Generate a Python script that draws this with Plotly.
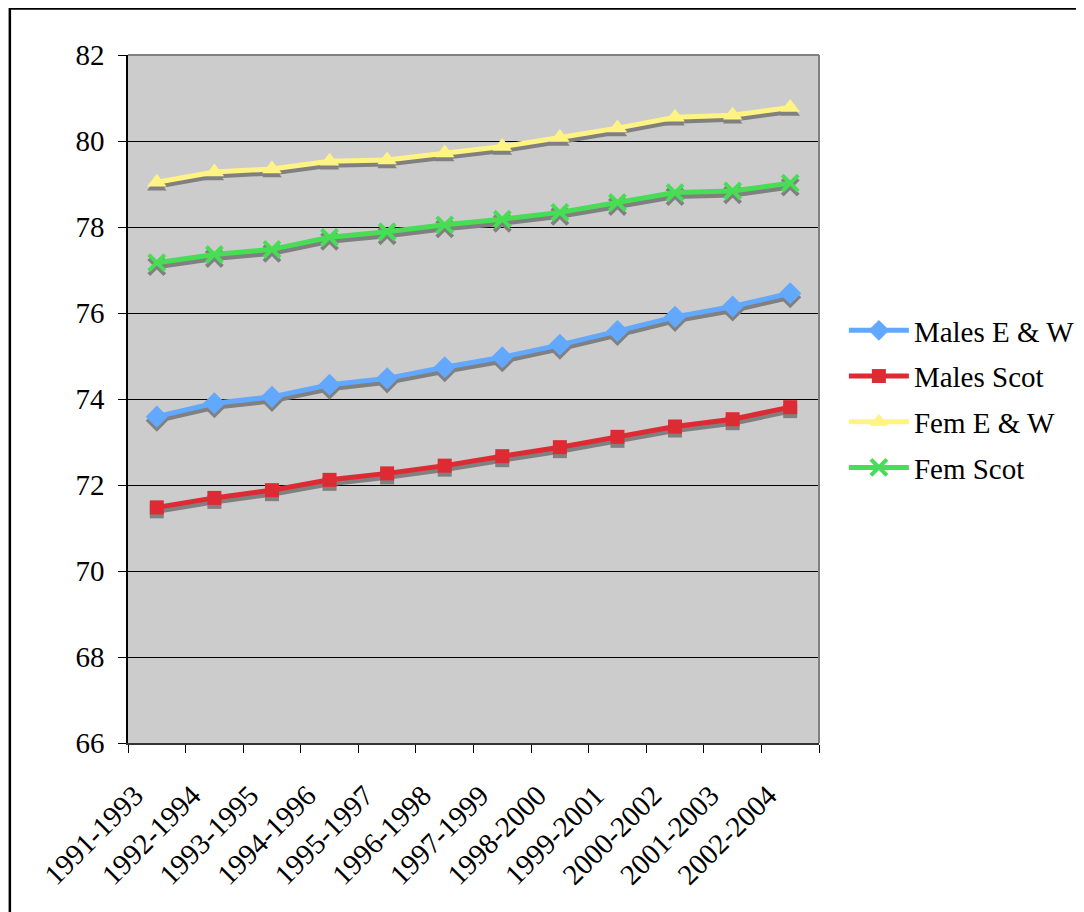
import plotly.graph_objects as go

periods = ["1991-1993", "1992-1994", "1993-1995", "1994-1996", "1995-1997", "1996-1998",
           "1997-1999", "1998-2000", "1999-2001", "2000-2002", "2001-2003", "2002-2004"]
males_ew = [73.59, 73.90, 74.05, 74.33, 74.48, 74.74, 74.97, 75.26, 75.58, 75.91, 76.15, 76.46]
males_scot = [71.48, 71.70, 71.88, 72.12, 72.27, 72.45, 72.67, 72.88, 73.12, 73.36, 73.53, 73.81]
fem_ew = [79.04, 79.28, 79.35, 79.53, 79.56, 79.72, 79.87, 80.08, 80.30, 80.55, 80.60, 80.78]
fem_scot = [77.17, 77.36, 77.48, 77.76, 77.89, 78.05, 78.18, 78.34, 78.57, 78.80, 78.84, 79.02]

series = [
    ("Males E & W", males_ew, "#62A8FF", "diamond", 17),
    ("Males Scot", males_scot, "#DD2A33", "square", 14),
    ("Fem E & W", fem_ew, "#FFF383", "triangle-up", 17),
    ("Fem Scot", fem_scot, "#47DD55", "x-thin", 16),
]

fig = go.Figure()
FONT = "Times New Roman, Liberation Serif, serif"

# shadows (base axis, range shifted so they sit a few pixels lower)
for name, vals, col, sym, sz in series:
    mk = dict(symbol=sym, size=sz, color="#808080")
    if sym == "x-thin":
        mk["line"] = dict(color="#808080", width=4)
    fig.add_trace(go.Scatter(x=periods, y=vals, mode="lines+markers", yaxis="y",
                             line=dict(color="#808080", width=5), marker=mk,
                             showlegend=False, hoverinfo="skip"))
# coloured series on the visible overlaying axis (drawn on top)
for name, vals, col, sym, sz in series:
    mk = dict(symbol=sym, size=sz, color=col)
    if sym == "x-thin":
        mk["line"] = dict(color=col, width=4)
    fig.add_trace(go.Scatter(x=periods, y=vals, mode="lines+markers", name=name,
                             yaxis="y2", legendgroup=name,
                             line=dict(color=col, width=5), marker=mk))

yr = [66, 82]
shift = 4.0 / 43.0

fig.update_layout(
    width=1084, height=912,
    margin=dict(l=120, r=271, t=47, b=177),
    paper_bgcolor="white", plot_bgcolor="#CCCCCC",
    font=dict(family=FONT, size=29, color="black"),
    showlegend=True,
    legend=dict(x=1.036, y=0.50, yanchor="middle", xanchor="left",
                font=dict(family=FONT, size=29), tracegroupgap=5,
                itemwidth=60, bgcolor="rgba(0,0,0,0)"),
    xaxis=dict(type="category", tickson="boundaries", ticks="outside", ticklen=8,
               tickcolor="black", tickangle=-45, showgrid=False, showline=True,
               linecolor="#333333", linewidth=2, tickfont=dict(family=FONT, size=29),
               ticklabelshift=-22, ticklabelstandoff=22,
               range=[-0.5, 11.5]),
    yaxis=dict(range=[yr[0] + shift, yr[1] + shift], showgrid=False, showticklabels=False,
               ticks="", showline=False, zeroline=False),
    yaxis2=dict(range=yr, dtick=2, overlaying="y", side="left", ticks="outside", ticklen=8,
                tickcolor="black", showgrid=True, gridcolor="black", gridwidth=1,
                showline=True, linecolor="black", linewidth=1.5, zeroline=False,
                tickfont=dict(family=FONT, size=29), ticklabelstandoff=8),
    shapes=[
        dict(type="line", xref="paper", yref="paper", x0=0, x1=1, y0=1, y1=1,
             line=dict(color="#808080", width=2)),
        dict(type="line", xref="paper", yref="paper", x0=1, x1=1, y0=0, y1=1,
             line=dict(color="#808080", width=2)),
        dict(type="rect", xref="paper", yref="paper", x0=(1.5 - 120) / 693, x1=1.6,
             y0=-0.6, y1=(735 - 0.5) / 688,
             line=dict(color="black", width=2.5), fillcolor="rgba(0,0,0,0)"),
    ],
)

fig.write_html("out.html")
